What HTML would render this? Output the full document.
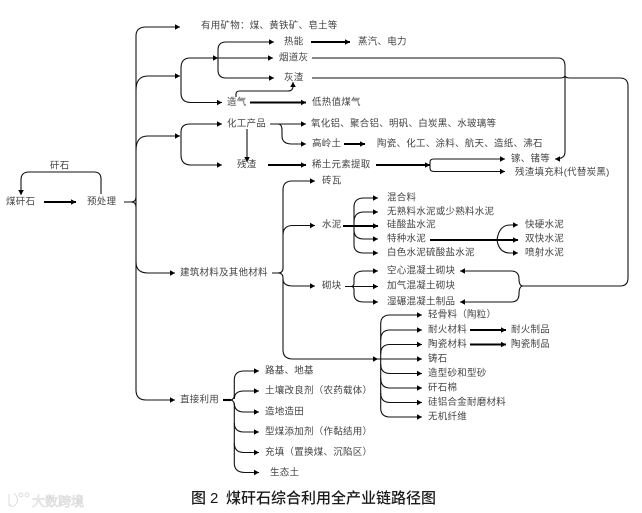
<!DOCTYPE html>
<html lang="zh">
<head>
<meta charset="utf-8">
<style>
html,body{margin:0;padding:0;background:#fff;width:642px;height:513px;overflow:hidden}
svg{display:block}
.l{filter:blur(.25px)}
.l path{fill:none;stroke:#111;stroke-width:1.1}
.l path.t{stroke-width:2.1;stroke:#000}
.x{filter:blur(.3px)}
.x text{font-family:"Liberation Sans","Noto Sans CJK SC",sans-serif;font-size:9.5px;letter-spacing:.25px;fill:#444;dominant-baseline:central}
.h{font-family:"Liberation Sans","Noto Sans CJK SC",sans-serif;font-size:15px;font-weight:500;fill:#1a1a1a}
</style>
</head>
<body>
<svg width="642" height="513" viewBox="0 0 642 513" xmlns="http://www.w3.org/2000/svg">
<defs>
<marker id="a" markerUnits="userSpaceOnUse" markerWidth="6" markerHeight="6" refX="5" refY="3" orient="auto"><path d="M0 .2L5 3L0 5.8z" fill="#000"/></marker>
</defs>
<g class="l">
<!-- left -->
<path d="M101 194V179Q101 172 94 172H29Q21 172 21 180V195" marker-end="url(#a)"/>
<path class="t" d="M44 202H76" marker-end="url(#a)"/>
<path d="M124 202H131Q136 202 136 197M136 207Q136 202 131 202"/>
<!-- trunk -->
<path d="M136 200V36Q136 27 146 27H180" marker-end="url(#a)"/>
<path d="M136 200V390Q136 400 146 400H175" marker-end="url(#a)"/>
<path d="M136 90Q136 76 148 76H180" marker-end="url(#a)"/>
<path d="M136 150Q136 136 148 136H180" marker-end="url(#a)"/>
<path d="M136 262Q136 273 148 273H175" marker-end="url(#a)"/>
<!-- energy -->
<path d="M181 76V68Q181 58 190 58H218" marker-end="url(#a)"/>
<path d="M181 76V93Q181 102.500 191 102.500H222" marker-end="url(#a)"/>
<path d="M218 58V50Q218 42 226 42H274" marker-end="url(#a)"/>
<path d="M218 58V70Q218 78 226 78H274" marker-end="url(#a)"/>
<path d="M218 58H273" marker-end="url(#a)"/>
<path class="t" d="M311 42H350" marker-end="url(#a)"/>
<path d="M312 58H558Q565 58 565 66V152Q565 159 555 159" marker-end="url(#a)"/>
<path d="M312 78H560Q564 78 565 76Q566 78 570 78H620Q628 78 628 86V278Q628 286 620 286H523"/>
<path d="M236 97V94Q236 91 240 91H288Q293 91 293 86V82" marker-end="url(#a)"/>
<path class="t" d="M250 102.500H306" marker-end="url(#a)"/>
<!-- chemical -->
<path d="M181 136V132Q181 124 190 124H222" marker-end="url(#a)"/>
<path d="M181 136V155Q181 165 191 165H222" marker-end="url(#a)"/>
<path d="M247 129V162" marker-end="url(#a)"/>
<path d="M270 124H306" marker-end="url(#a)"/>
<path d="M278 124Q282 124 282 130V136Q282 144 292 144H306" marker-end="url(#a)"/>
<path class="t" d="M344 144H365" marker-end="url(#a)"/>
<path class="t" d="M268 165H306" marker-end="url(#a)"/>
<path class="t" d="M376 165H430" marker-end="url(#a)"/>
<path d="M430 165V162Q430 159 434 159H505" marker-end="url(#a)"/>
<path d="M430 165V168Q430 171.500 434 171.500H505" marker-end="url(#a)"/>
<!-- building -->
<path d="M272 273H278Q283 273 283 268V190Q283 181 292 181H315" marker-end="url(#a)"/>
<path d="M283 235Q283 225.500 293 225.500H315" marker-end="url(#a)"/>
<path d="M278 273Q283 273 283 278V350Q283 359 293 359H378" marker-end="url(#a)"/>
<path d="M283 279Q283 286 293 286H315" marker-end="url(#a)"/>
<!-- cement -->
<path class="t" d="M343 226H378" marker-end="url(#a)"/>
<path d="M354 226V207Q354 198 364 198H378" marker-end="url(#a)"/>
<path d="M354 222Q354 212 364 212H378" marker-end="url(#a)"/>
<path d="M354 230Q354 239 364 239H378" marker-end="url(#a)"/>
<path d="M354 226V245Q354 253 364 253H378" marker-end="url(#a)"/>
<path class="t" d="M430 240H518" marker-end="url(#a)"/>
<path d="M497 240Q499 225 510 225H518" marker-end="url(#a)"/>
<path d="M497 240Q499 253 510 253H518" marker-end="url(#a)"/>
<!-- block -->
<path d="M351 286.500H378" marker-end="url(#a)"/>
<path d="M345 286.500H351Q354 286.500 354 283V279Q354 271 364 271H378" marker-end="url(#a)"/>
<path d="M351 286.500Q354 286.500 354 290V294Q354 302 364 302H378" marker-end="url(#a)"/>
<path d="M523 286Q519 286 519 279Q519 271 511 271H460" marker-end="url(#a)"/>
<path d="M523 286Q519 286 519 294Q519 302 511 302H460" marker-end="url(#a)"/>
<!-- other -->
<path d="M380.700 359V324Q380.700 315 390 315H422" marker-end="url(#a)"/>
<path d="M380.700 340Q380.700 330 390 330H422" marker-end="url(#a)"/>
<path d="M380.700 354Q380.700 344.500 390 344.500H422" marker-end="url(#a)"/>
<path d="M378 359H422" marker-end="url(#a)"/>
<path d="M380.700 364Q380.700 373.500 390 373.500H422" marker-end="url(#a)"/>
<path d="M380.700 378Q380.700 388 390 388H422" marker-end="url(#a)"/>
<path d="M380.700 393Q380.700 402.500 390 402.500H422" marker-end="url(#a)"/>
<path d="M380.700 359V408Q380.700 417 390 417H422" marker-end="url(#a)"/>
<path class="t" d="M470 330H506" marker-end="url(#a)"/>
<path class="t" d="M470 344.500H506" marker-end="url(#a)"/>
<!-- direct -->
<path class="t" d="M223 400H231"/>
<path d="M231 400Q234.300 399 234.300 395V380Q234.300 371 244 371H259" marker-end="url(#a)"/>
<path d="M234.300 399Q234.300 391 244 391H259" marker-end="url(#a)"/>
<path d="M234.300 403Q234.300 412 244 412H259" marker-end="url(#a)"/>
<path d="M234.300 423Q234.300 432 244 432H259" marker-end="url(#a)"/>
<path d="M234.300 443Q234.300 452.500 244 452.500H259" marker-end="url(#a)"/>
<path d="M231 400Q234.300 401 234.300 405V463Q234.300 472.500 245 472.500H259" marker-end="url(#a)"/>
</g>
<g class="x">
<text x="50" y="166">矸石</text>
<text x="6" y="202">煤矸石</text>
<text x="87" y="202">预处理</text>
<text x="201" y="26">有用矿物&#xFF1A;煤、黄铁矿、皂土等</text>
<text x="284" y="42">热能</text>
<text x="358" y="42">蒸汽、电力</text>
<text x="279" y="58">烟道灰</text>
<text x="284" y="78">灰渣</text>
<text x="227" y="102.500">造气</text>
<text x="312" y="102.500">低热值煤气</text>
<text x="227" y="124">化工产品</text>
<text x="311" y="124">氧化铝、聚合铝、明矾、白炭黑、水玻璃等</text>
<text x="312" y="144">高岭土</text>
<text x="377" y="144">陶瓷、化工、涂料、航天、造纸、沸石</text>
<text x="237" y="165">残渣</text>
<text x="312" y="165">稀土元素提取</text>
<text x="511" y="159">镓、锗等</text>
<text x="515" y="172.500">残渣填充料(代替炭黑)</text>
<text x="180" y="273">建筑材料及其他材料</text>
<text x="322" y="181">砖瓦</text>
<text x="322" y="225">水泥</text>
<text x="322" y="286">砌块</text>
<text x="387" y="198">混合料</text>
<text x="387" y="212">无熟料水泥或少熟料水泥</text>
<text x="387" y="225">硅酸盐水泥</text>
<text x="387" y="239">特种水泥</text>
<text x="387" y="253">白色水泥硫酸盐水泥</text>
<text x="525" y="225">快硬水泥</text>
<text x="525" y="239">双快水泥</text>
<text x="525" y="253">喷射水泥</text>
<text x="387" y="271">空心混凝土砌块</text>
<text x="387" y="286">加气混凝土砌块</text>
<text x="387" y="302">湿碾混凝土制品</text>
<text x="428" y="315">轻骨料&#xFF08;陶粒&#xFF09;</text>
<text x="428" y="330">耐火材料</text>
<text x="511" y="330">耐火制品</text>
<text x="428" y="344.500">陶瓷材料</text>
<text x="511" y="344.500">陶瓷制品</text>
<text x="428" y="359">铸石</text>
<text x="428" y="373.500">造型砂和型砂</text>
<text x="428" y="388">矸石棉</text>
<text x="428" y="402.500">硅铝合金耐磨材料</text>
<text x="428" y="417">无机纤维</text>
<text x="180" y="400">直接利用</text>
<text x="265" y="371">路基、地基</text>
<text x="265" y="391">土壤改良剂&#xFF08;农药载体&#xFF09;</text>
<text x="265" y="412">造地造田</text>
<text x="265" y="432">型煤添加剂&#xFF08;作黏结用&#xFF09;</text>
<text x="265" y="452.500">充填&#xFF08;置换煤、沉陷区&#xFF09;</text>
<text x="270" y="473">生态土</text>
</g>
<text class="h" x="191" y="503">图</text>
<text class="h" x="210" y="503">2</text>
<text class="h" x="226" y="503">煤矸石综合利用全产业链路径图</text>
<!-- watermark -->
<g fill="#fff" stroke="#cfcfcf" stroke-width=".7">
<path d="M9 494V506M14 493Q21 500 14 506Q11 508 10 504" fill="none"/>
<circle cx="21" cy="495" r="2"/>
<circle cx="27" cy="495" r="2"/>
<text x="32" y="506" font-family="'Liberation Sans','Noto Sans CJK SC',sans-serif" font-size="13" stroke-width=".5">大数跨境</text>
</g>
</svg>
</body>
</html>
